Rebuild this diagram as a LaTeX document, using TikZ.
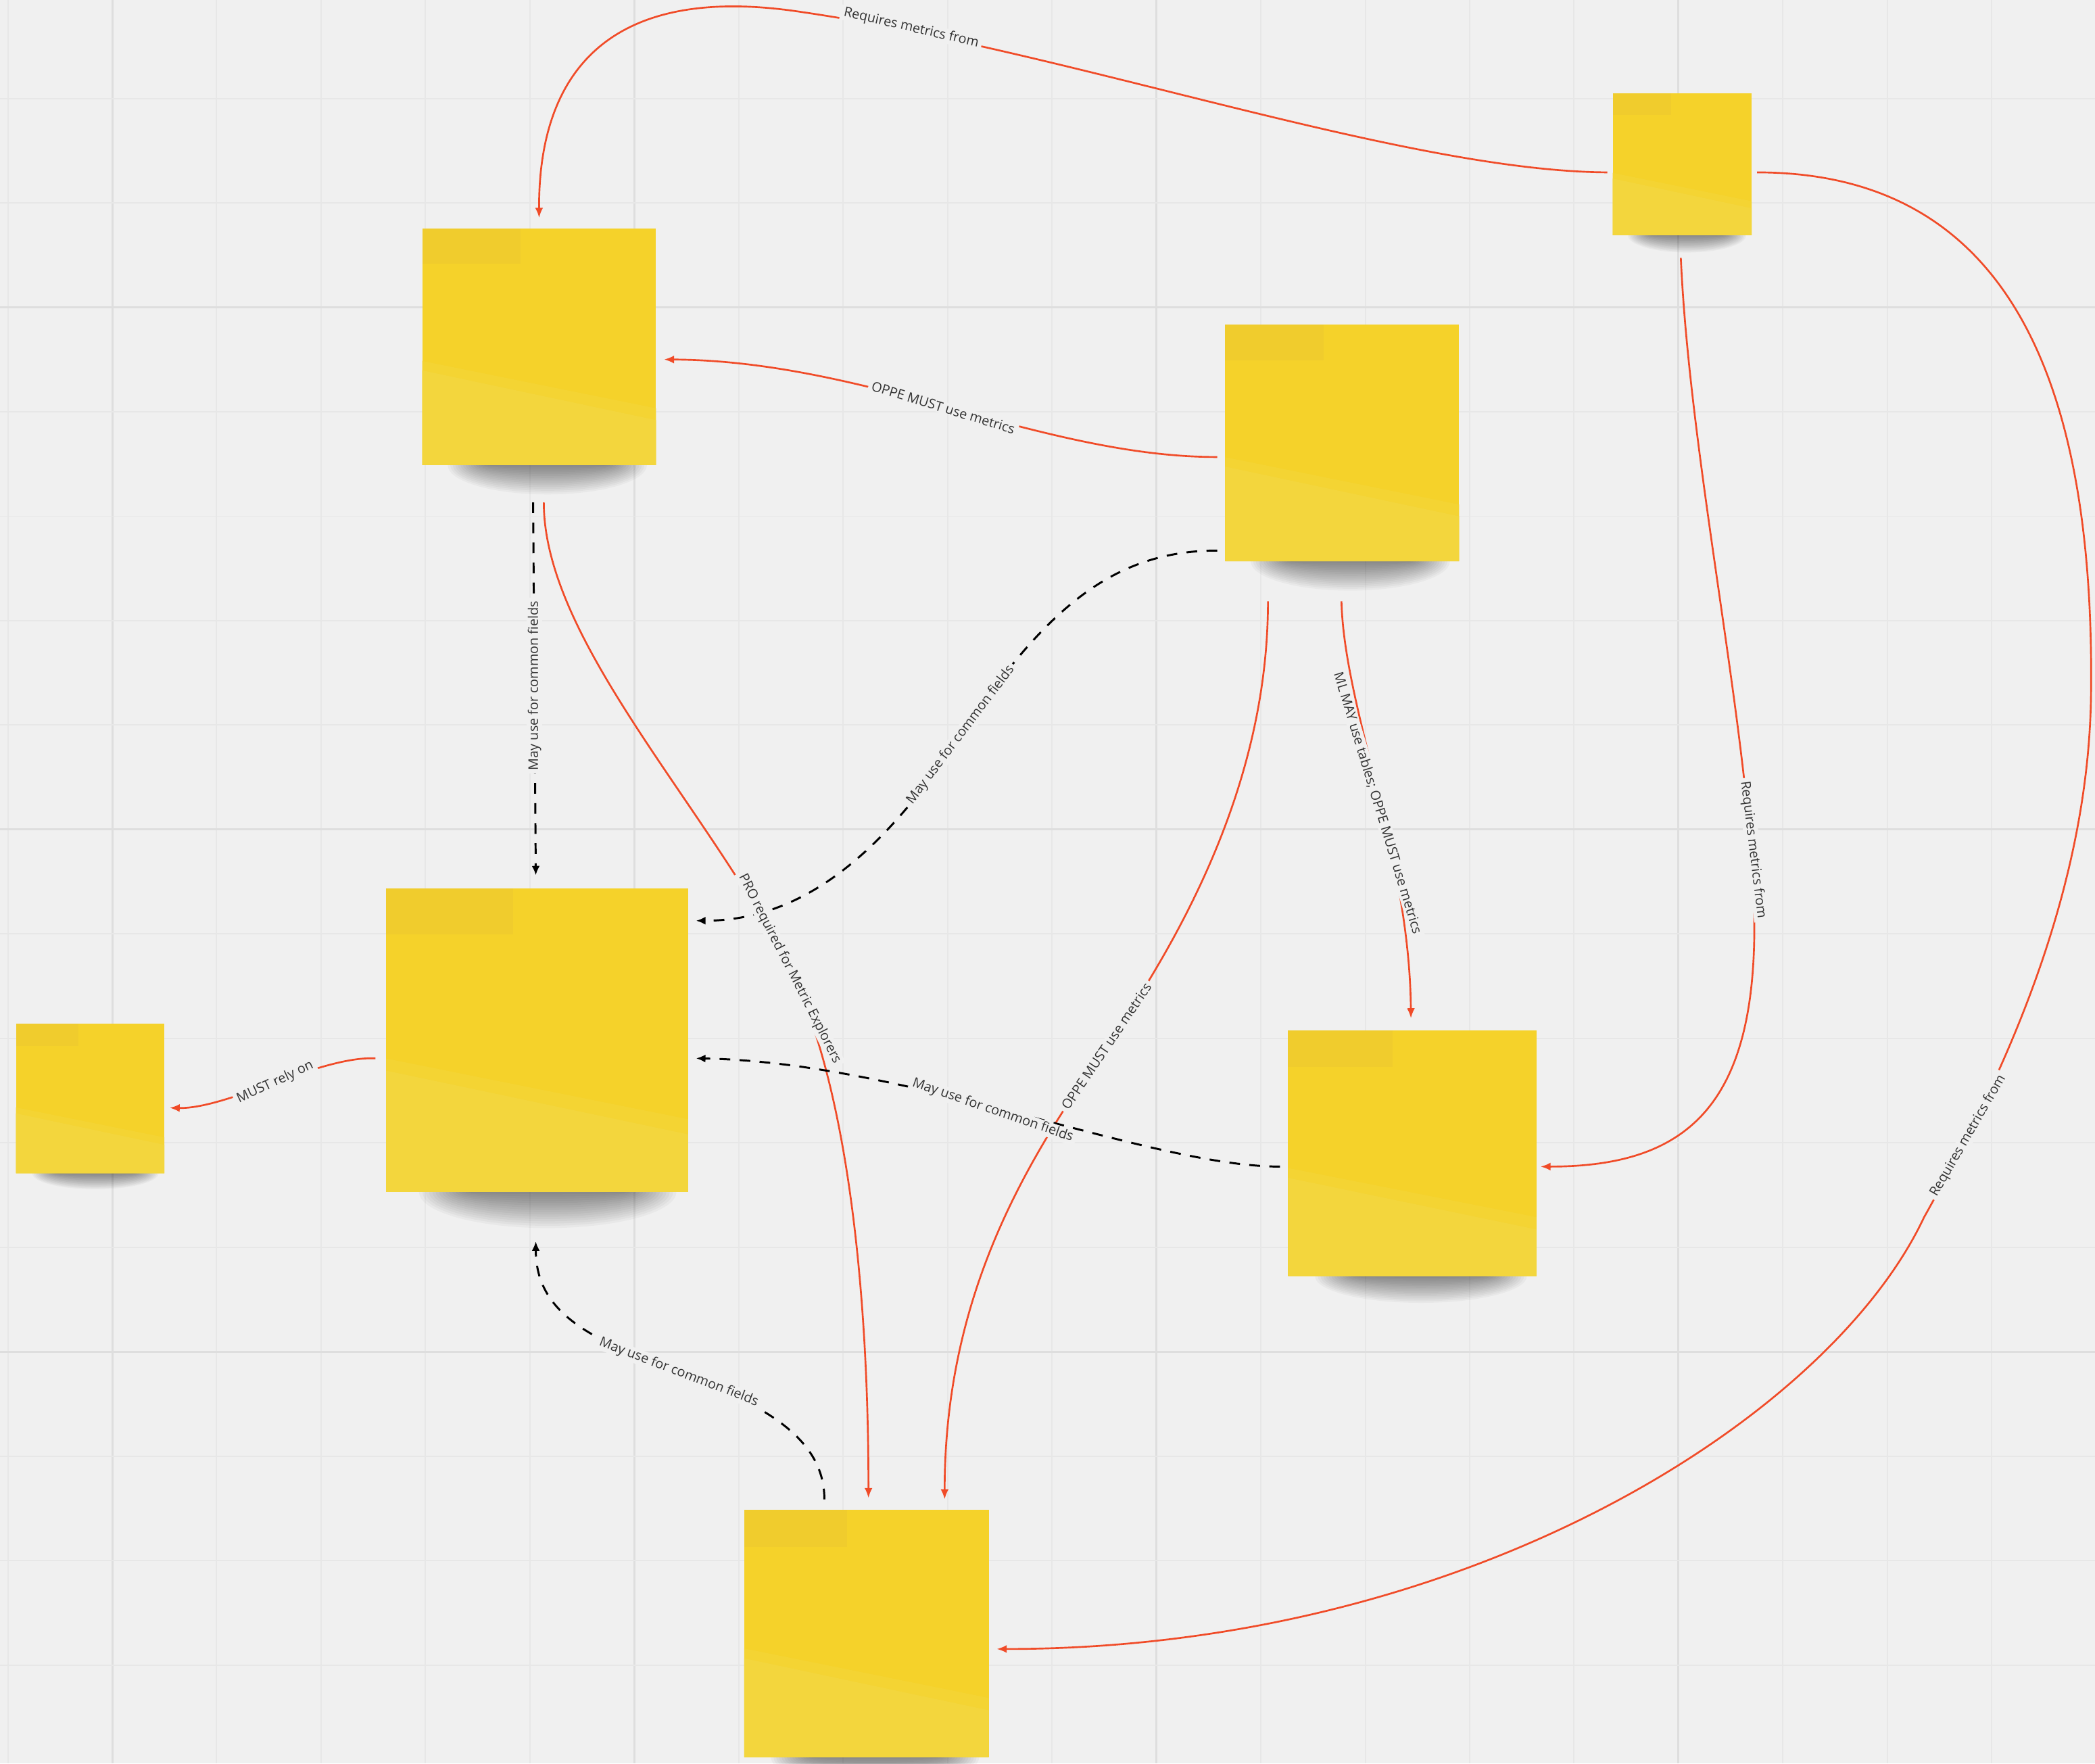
\documentclass[tikz,border=0pt]{standalone}
\usepackage{fontspec}
\setmainfont{Open Sans}
\usetikzlibrary{arrows.meta,calc}
\definecolor{bg}{HTML}{F0F0F0}
\definecolor{gridc}{HTML}{E7E7E7}
\definecolor{gridmc}{HTML}{DEDEDE}
\definecolor{noteY}{HTML}{F5D22A}
\definecolor{noteDark}{HTML}{F0CC2D}
\definecolor{noteMid}{HTML}{F4D433}
\definecolor{noteLight}{HTML}{F3D63D}
\definecolor{linered}{HTML}{F04B28}
\definecolor{labeltext}{HTML}{333333}
\newcommand{\stickynote}[6]{%
  \pgfmathsetmacro\nw{#4-#2}%
  \pgfmathsetmacro\nh{#5-#3}%
  \pgfmathsetmacro\scx{(#2+#4)/2+0.035*\nw}%
  \foreach \i in {1,...,16}{%
    \pgfmathsetmacro\rx{\nw*(0.25+0.011*\i)}%
    \pgfmathsetmacro\ry{#6*\i/16}%
    \fill[black, opacity=0.03] (\scx,#5) ellipse [x radius=\rx pt, y radius=\ry pt];
  }%
  \node[note, minimum width=\nw*1pt, minimum height=\nh*1pt] (#1) at ({(#2+#4)/2},{(#3+#5)/2}) {};
  \fill[noteDark] (#2,#3) rectangle ({#2+0.42*\nw},{#3+0.15*\nh});
  \fill[noteMid] (#2,{#3+0.56*\nh}) -- (#4,{#3+0.76*\nh}) -- (#4,#5) -- (#2,#5) -- cycle;
  \fill[noteLight] (#2,{#3+0.60*\nh}) -- (#4,{#3+0.81*\nh}) -- (#4,#5) -- (#2,#5) -- cycle;
}
\begin{document}
\begin{tikzpicture}[x=1pt,y=-1pt,
  lbl/.style={font=\fontsize{10}{12}\selectfont, text=labeltext, fill=bg, inner xsep=2.5pt, inner ysep=0.6pt},
  redc/.style={draw=linered, line width=1.35pt, -{Latex[length=7.5pt,width=6pt]}},
  dashc/.style={draw=black, line width=1.5pt, dash pattern=on 8pt off 7pt, -{Latex[length=7pt,width=6pt]}},
  note/.style={fill=noteY, draw=none, inner sep=0pt, outer sep=0pt},
  gridminor/.style={draw=gridc, line width=1pt},
  gridmajor/.style={draw=gridmc, line width=1.5pt}]
\useasboundingbox (0,0) rectangle (1568,1319.6);
\clip (0,0) rectangle (1568,1319.6);
\fill[bg] (0,0) rectangle (1568,1319.6);
% grid
\foreach \k in {0,...,20}{
  \pgfmathtruncatemacro\mm{mod(\k,5)}
  \pgfmathsetmacro\xx{5.85+78.15*\k}
  \ifnum\mm=1 \draw[gridmajor] (\xx,0) -- (\xx,1319.6); \else \draw[gridminor] (\xx,0) -- (\xx,1319.6); \fi
}
\foreach \k in {0,...,17}{
  \pgfmathtruncatemacro\mm{mod(\k,5)}
  \pgfmathsetmacro\yy{-4.45+78.15*\k}
  \ifnum\mm=3 \draw[gridmajor] (0,\yy) -- (1568,\yy); \else \draw[gridminor] (0,\yy) -- (1568,\yy); \fi
}
% sticky notes
\stickynote{A}{316}{171}{491}{348}{22}
\stickynote{B}{1207}{70}{1311}{176}{13}
\stickynote{C}{917}{243}{1092}{420}{22}
\stickynote{D}{289}{665}{515}{892}{27}
\stickynote{E}{12}{766}{123}{878}{12}
\stickynote{F}{964}{771}{1150}{955}{20}
\stickynote{G}{557}{1130}{740}{1315}{22}
% connectors
\draw[redc] ([shift={(-4,6)}]B.west) .. controls (1050,128) and (800,38) .. (600,9) .. controls (450,-14) and (403,60) .. ([shift={(0,-8)}]A.north);
\draw[redc] ([shift={(4,6)}]B.east) .. controls (1500,129) and (1568,280) .. (1565,520) .. controls (1563,680) and (1488,825) .. (1440,911) .. controls (1370,1060) and (1100,1234) .. ([shift={(6,11.5)}]G.east);
\draw[redc] ([shift={(-1,17)}]B.south) .. controls (1265,350) and (1312,560) .. (1313,690) .. controls (1314,830) and (1260,873) .. ([shift={(3,10)}]F.east);
\draw[redc] ([shift={(-6,10.5)}]C.west) .. controls (780,342) and (650,270) .. ([shift={(6,9.5)}]A.east);
\draw[dashc] ([shift={(-6,80.5)}]C.west) .. controls (830,412) and (780,460) .. (719,550) .. controls (660,640) and (600,689) .. ([shift={(6,-89.5)}]D.east);
\draw[redc] ([shift={(-0.5,30)}]C.south) .. controls (1006,530) and (1055,640) .. ([shift={(-1,-9)}]F.north);
\draw[redc] ([shift={(-55.5,30)}]C.south) .. controls (949,590) and (880,707) .. (828,783) .. controls (776,859) and (707,960) .. ([shift={(58.5,-8)}]G.north);
\draw[dashc] ([shift={(-4.5,28)}]A.south) -- ([shift={(-1,-10)}]D.north);
\draw[redc] ([shift={(3.5,28)}]A.south) .. controls (407,480) and (531,605) .. (591,725) .. controls (631,805) and (650,950) .. ([shift={(1.5,-9)}]G.north);
\draw[dashc] ([shift={(-6,10)}]F.west) .. controls (860,873) and (680,795) .. ([shift={(6,13.5)}]D.east);
\draw[redc] ([shift={(-8,13.5)}]D.west) .. controls (240,790) and (170,830) .. ([shift={(4,7)}]E.east);
\draw[dashc] ([shift={(-31.5,-8)}]G.north) .. controls (617,1075) and (569.5,1050.5) .. (508,1027) .. controls (446.5,1003.5) and (401,985) .. ([shift={(-1,37)}]D.south);
% labels
\node[lbl, rotate=-13] (l1) at (682,21) {Requires metrics from};
\node[lbl, rotate=60] (l2) at (1473,850) {Requires metrics from};
\node[lbl, rotate=-83] (l3) at (1312,636) {Requires metrics from};
\node[lbl, rotate=-17] (l4) at (706,305) {OPPE MUST use metrics};
\node[lbl, rotate=53] (l5) at (719,550) {May use for common fields};
\node[lbl, rotate=-73] (l6) at (1031,601) {ML MAY use tables; OPPE MUST use metrics};
\node[lbl, rotate=56] (l7) at (828,783) {OPPE MUST use metrics};
\node[lbl, rotate=90] (l8) at (400,513) {May use for common fields};
\node[lbl, rotate=-63] (l9) at (591,725) {PRO required for Metric Explorers};
\node[lbl, rotate=-19] (l10) at (743,831) {May use for common fields};
\node[lbl, rotate=25] (l11) at (206,810) {MUST rely on};
\node[lbl, rotate=-21] (l12) at (508,1027) {May use for common fields};
\end{tikzpicture}
\end{document}
